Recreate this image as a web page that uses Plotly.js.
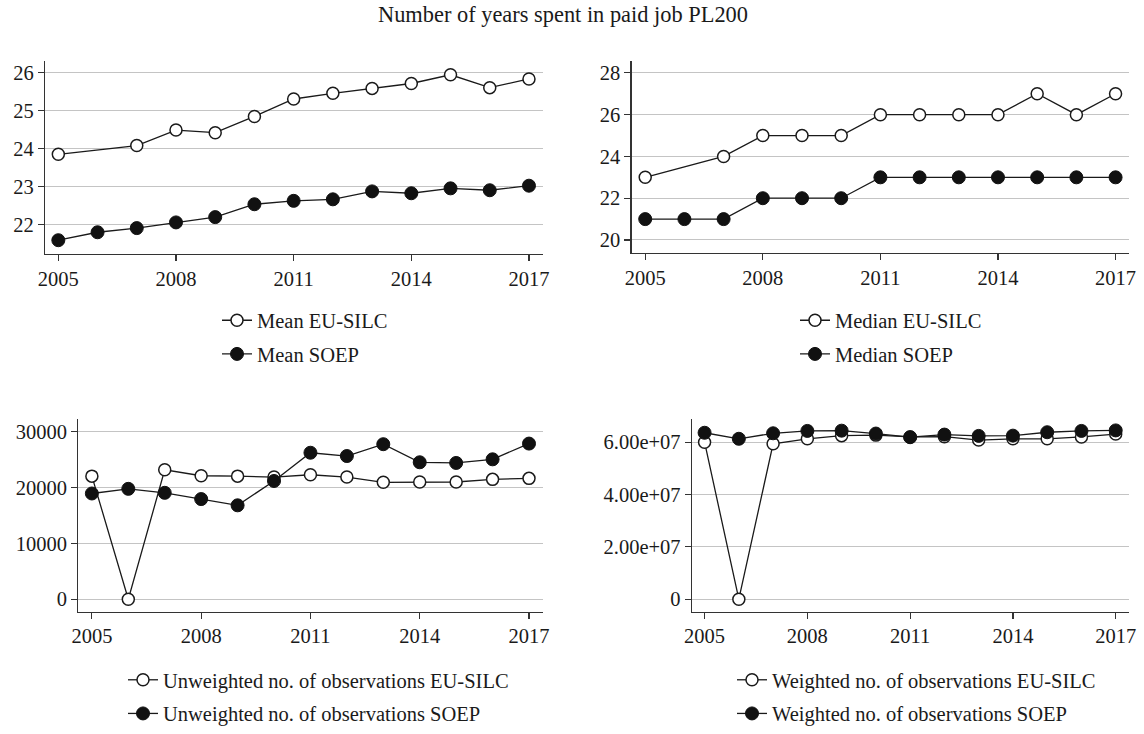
<!DOCTYPE html>
<html>
<head>
<meta charset="utf-8">
<script src="https://cdn.plot.ly/plotly-3.0.1.min.js"></script>
<style>html,body{margin:0;padding:0;background:#fff;}</style>
</head>
<body>
<div id="chart" style="width:1144px;height:734px;"></div>
<script>
const years = [2005,2006,2007,2008,2009,2010,2011,2012,2013,2014,2015,2016,2017];

const meanEU   = [23.85,null,24.08,24.49,24.42,24.85,25.31,25.46,25.59,25.72,25.95,25.61,25.84];
const meanSOEP = [21.58,21.79,21.90,22.05,22.19,22.53,22.62,22.66,22.87,22.82,22.95,22.90,23.02];

const medianEU   = [23,null,24,25,25,25,26,26,26,26,27,26,27];
const medianSOEP = [21,21,21,22,22,22,23,23,23,23,23,23,23];

const unwEU   = [22050,0,23180,22120,22050,21880,22300,21880,20940,21000,21000,21470,21650];
const unwSOEP = [18940,19770,19060,17940,16820,21180,26240,25650,27770,24530,24410,25060,27880];

const wEU   = [6.00e7,0,5.94e7,6.13e7,6.25e7,6.27e7,6.20e7,6.21e7,6.08e7,6.13e7,6.13e7,6.20e7,6.31e7];
const wSOEP = [6.36e7,6.13e7,6.34e7,6.43e7,6.44e7,6.33e7,6.19e7,6.29e7,6.24e7,6.25e7,6.38e7,6.43e7,6.45e7];

const xTicks = [2005,2008,2011,2014,2017];
const yTicks1 = [22,23,24,25,26];
const yTicks2 = [20,22,24,26,28];
const yTicks3 = [0,10000,20000,30000];
const yTickText3 = ['0','10000','20000','30000'];
const yTicks4 = [0,2e7,4e7,6e7];
const yTickText4 = ['0','2.00e+07','4.00e+07','6.00e+07'];

const labels = {
  meanEU: 'Mean EU-SILC', meanSOEP: 'Mean SOEP',
  medEU: 'Median EU-SILC', medSOEP: 'Median SOEP',
  unwEU: 'Unweighted no. of observations EU-SILC', unwSOEP: 'Unweighted no. of observations SOEP',
  wEU: 'Weighted no. of observations EU-SILC', wSOEP: 'Weighted no. of observations SOEP'
};
const title = 'Number of years spent in paid job PL200';

const FONT = 'Liberation Serif, Times New Roman, serif';
const lineStyle = {color:'#1a1a1a', width:1.3};
const openMarker = {symbol:'circle', size:12, color:'#ffffff', line:{color:'#1a1a1a', width:1.5}};
const fillMarker = {symbol:'circle', size:13, color:'#111111', line:{color:'#111111', width:1}};

function tr(y, name, open, xa, ya, leg, grp) {
  return {
    x: years, y: y, name: name, type: 'scatter', mode: 'lines+markers',
    connectgaps: true, line: lineStyle, marker: open ? openMarker : fillMarker,
    xaxis: xa, yaxis: ya, legend: leg, legendgroup: grp, cliponaxis: false
  };
}

const data = [
  tr(meanEU, labels.meanEU, true, 'x', 'y', 'legend', 'g1'),
  tr(meanSOEP, labels.meanSOEP, false, 'x', 'y', 'legend', 'g2'),
  tr(medianEU, labels.medEU, true, 'x2', 'y2', 'legend2', 'g3'),
  tr(medianSOEP, labels.medSOEP, false, 'x2', 'y2', 'legend2', 'g4'),
  tr(unwEU, labels.unwEU, true, 'x3', 'y3', 'legend3', 'g5'),
  tr(unwSOEP, labels.unwSOEP, false, 'x3', 'y3', 'legend3', 'g6'),
  tr(wEU, labels.wEU, true, 'x4', 'y4', 'legend4', 'g7'),
  tr(wSOEP, labels.wSOEP, false, 'x4', 'y4', 'legend4', 'g8')
];

const axColor = '#333333';
const TICKFONT = {family: FONT, size: 20.5, color: '#1a1a1a'};
function xax(domain, range, anchor) {
  return {domain: domain, range: range, anchor: anchor, tickvals: xTicks, ticktext: xTicks.map(String),
    showgrid: false, zeroline: false, showline: true, linecolor: axColor, linewidth: 1.2,
    ticks: 'outside', ticklen: 6, tickcolor: axColor, tickwidth: 1.2, fixedrange: true, tickfont: TICKFONT};
}
function yax(domain, range, anchor, vals, text) {
  return {domain: domain, range: range, anchor: anchor, tickvals: vals, ticktext: text,
    showgrid: true, gridcolor: '#c4c4c4', gridwidth: 1, zeroline: false,
    showline: true, linecolor: axColor, linewidth: 1.2,
    ticks: 'outside', ticklen: 6, tickcolor: axColor, tickwidth: 1.2, fixedrange: true, tickfont: TICKFONT};
}
function leg(x, y) {
  return {x: x, y: y, xanchor: 'left', yanchor: 'top', bgcolor: 'rgba(0,0,0,0)',
    font: {family: FONT, size: 20.5, color: '#1a1a1a'}, traceorder: 'grouped',
    tracegroupgap: 4, itemclick: false};
}

const W = 1144, H = 734;
const layout = {
  width: W, height: H,
  margin: {l: 0, r: 0, t: 0, b: 0},
  paper_bgcolor: '#ffffff', plot_bgcolor: '#ffffff',
  font: {family: FONT, size: 20.5, color: '#1a1a1a'},
  title: {text: title, x: 563/W, xanchor: 'center', y: 1 - 6/H, yanchor: 'top',
          font: {family: FONT, size: 22.4, color: '#1a1a1a'}},
  xaxis:  xax([45/W, 542.7/W], [2004.66, 2017.35], 'y'),
  yaxis:  yax([1 - 257.7/H, 1 - 61.7/H], [21.22, 26.32], 'x', yTicks1, yTicks1.map(String)),
  xaxis2: xax([631.5/W, 1128.9/W], [2004.65, 2017.34], 'y2'),
  yaxis2: yax([1 - 257/H, 1 - 61.7/H], [19.37, 28.58], 'x2', yTicks2, yTicks2.map(String)),
  xaxis3: xax([78.4/W, 542.7/W], [2004.63, 2017.376], 'y3'),
  yaxis3: yax([1 - 621/H, 1 - 425/H], [-2235, 32350], 'x3', yTicks3, yTickText3),
  xaxis4: xax([691.9/W, 1128.9/W], [2004.63, 2017.385], 'y4'),
  yaxis4: yax([1 - 621/H, 1 - 425/H], [-4.77e6, 6.9e7], 'x4', yTicks4, yTickText4),
  legend:  leg(217/W, 1 - 305/H),
  legend2: leg(795/W, 1 - 305/H),
  legend3: leg(123/W, 1 - 670/H),
  legend4: leg(732/W, 1 - 670/H),
  showlegend: true
};

Plotly.newPlot('chart', data, layout, {displayModeBar: false, staticPlot: true});
</script>
</body>
</html>
